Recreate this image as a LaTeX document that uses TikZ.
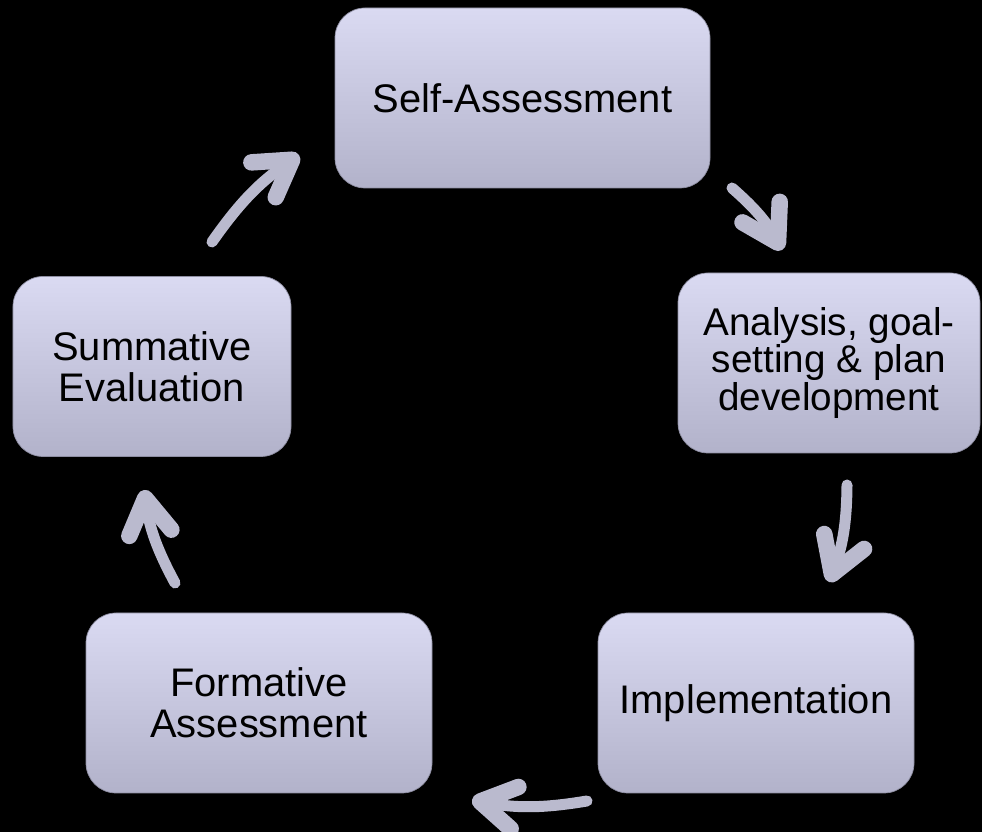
\documentclass[tikz,border=0pt]{standalone}
\usepackage{fontspec}
\setmainfont{Liberation Sans}
\usepackage{tikz}
\usetikzlibrary{arrows.meta}

\definecolor{boxtop}{RGB}{218,218,242}
\definecolor{boxbot}{RGB}{178,178,202}
\definecolor{arrowgrey}{RGB}{186,186,206}

\begin{document}
\begin{tikzpicture}[
	stage/.style={rounded corners=0.6cm, top color=boxtop, bottom color=boxbot,
		draw=boxbot!80!black, line width=0.4pt, minimum height=3.6cm,
		align=center, font=\fontsize{22.7}{23.5}\selectfont},
	cyclearrow/.style={arrowgrey, line width=0.22cm, line cap=round,
		-{Straight Barb[round, length=0.7cm, width=0.85cm, line width=0pt 1.5]}, bend left=10}
	]

	\fill [black] (0,0) rectangle (19.64,16.64);
	\useasboundingbox (0,0) rectangle (19.64,16.64);

	\node [stage, minimum width=7.5cm] (self) at (10.45, 14.68) {Self-Assessment};
	\node [stage, minimum width=6.04cm, font=\fontsize{22}{21.3}\selectfont] (anal) at (16.58, 9.38) {Analysis, goal-\\setting \& plan\\development};
	\node [stage, minimum width=6.32cm] (impl) at (15.12, 2.58) {Implementation};
	\node [stage, minimum width=6.92cm] (form) at (5.18, 2.58) {Formative\\Assessment};
	\node [stage, minimum width=5.56cm] (summ) at (3.04, 9.31) {Summative\\Evaluation};

	% arrow ends
	\coordinate (summtail) at (4.24, 11.80);
	\coordinate (selftip) at (5.98, 13.54);
	\coordinate (selftail) at (14.64, 12.88);
	\coordinate (analtip) at (15.64, 11.64);
	\coordinate (analtail) at (16.94, 6.94);
	\coordinate (impltip) at (16.58, 5.0);
	\coordinate (impltail) at (11.74, 0.62);
	\coordinate (formtip) at (9.44, 0.64);
	\coordinate (formtail) at (3.5, 4.98);
	\coordinate (summtip) at (2.88, 6.84);

	\draw [cyclearrow] (summtail) to (selftip);
	\draw [cyclearrow] (selftail) to (analtip);
	\draw [cyclearrow] (analtail) to (impltip);
	\draw [cyclearrow] (impltail) to (formtip);
	\draw [cyclearrow] (formtail) to (summtip);

\end{tikzpicture}
\end{document}
